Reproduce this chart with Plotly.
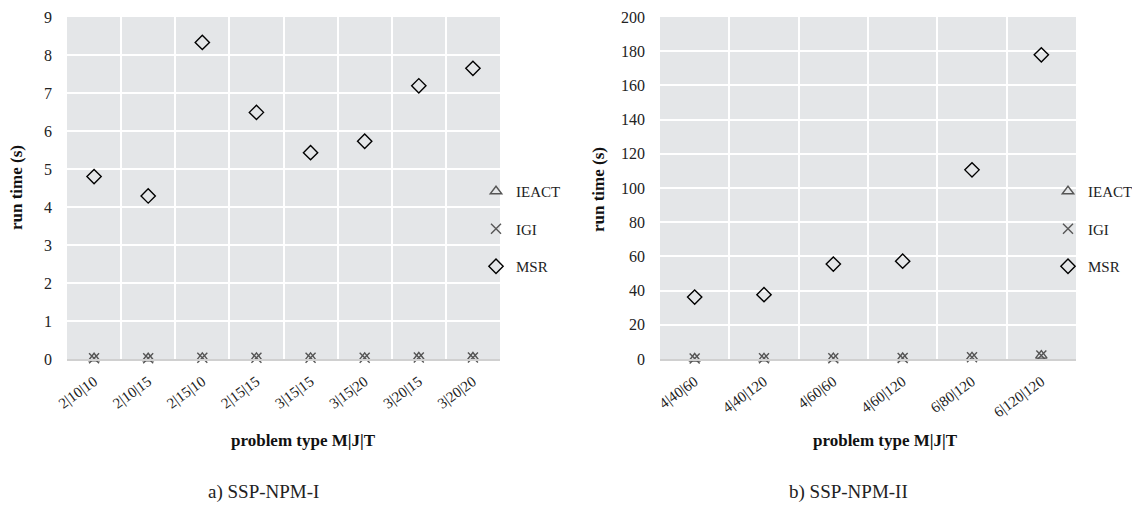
import plotly.graph_objects as go

# ---- data ----
cats_a = ["2|10|10", "2|10|15", "2|15|10", "2|15|15", "3|15|15", "3|15|20", "3|20|15", "3|20|20"]
ieact_a = [0.02, 0.02, 0.03, 0.03, 0.03, 0.03, 0.04, 0.04]
igi_a = [0.02, 0.02, 0.03, 0.03, 0.03, 0.03, 0.04, 0.04]
msr_a = [4.80, 4.29, 8.33, 6.49, 5.43, 5.73, 7.19, 7.65]

cats_b = ["4|40|60", "4|40|120", "4|60|60", "4|60|120", "6|80|120", "6|120|120"]
ieact_b = [0.3, 0.4, 0.5, 0.6, 1.0, 2.0]
igi_b = [0.3, 0.4, 0.5, 0.6, 1.0, 2.0]
msr_b = [36.2, 37.6, 55.5, 57.2, 110.6, 177.9]

OFF = 8  # default page margin of the html body
W, H = 1140 - OFF, 508 - OFF
FONT = "Liberation Serif, Times New Roman, DejaVu Serif, serif"
PLOT_BG = "#e4e6e8"

def px_x(p):
    return (p - OFF) / W

def px_y(p):
    return 1 - (p - OFF) / H

fig = go.Figure()

series = [
    ("IEACT", "triangle-up-open", "#555555", 10),
    ("IGI", "x-thin-open", "#555555", 10),
    ("MSR", "diamond-open", "#000000", 11),
]

for xa, ya, cats, vals, leg in [
    ("x", "y", cats_a, [ieact_a, igi_a, msr_a], "legend"),
    ("x2", "y2", cats_b, [ieact_b, igi_b, msr_b], "legend2"),
]:
    for (name, sym, col, sz), v in zip(series, vals):
        fig.add_trace(go.Scatter(
            x=cats, y=v, mode="markers", name=name,
            xaxis=xa, yaxis=ya, legend=leg, legendgroup=name + leg,
            cliponaxis=False,
            marker=dict(symbol=sym, size=sz, color=col,
                        line=dict(width=1.4, color=col)),
        ))

common_x = dict(
    type="category", tickson="boundaries", showgrid=True, gridcolor="white",
    gridwidth=2, showline=True, linecolor="#d0d0d0", linewidth=2,
    ticks="", tickangle=-36, zeroline=False, automargin=False,
    ticklabelstandoff=6, ticklabeloverflow="allow",
    tickfont=dict(family=FONT, size=15, color="#222222"),
)
common_y = dict(
    showgrid=True, gridcolor="white", gridwidth=2, zeroline=False,
    showline=False, ticks="", ticklabelstandoff=14, automargin=False,
    ticklabeloverflow="allow",
    tickfont=dict(family=FONT, size=16, color="#222222"),
)

ydom = [px_y(359), px_y(17)]

fig.update_layout(
    width=W, height=H,
    margin=dict(l=0, r=0, t=0, b=0, autoexpand=False),
    paper_bgcolor="white",
    plot_bgcolor=PLOT_BG,
    showlegend=True,
    xaxis=dict(domain=[px_x(67), px_x(500)], anchor="y",
               range=[-0.5, len(cats_a) - 0.5], **common_x),
    yaxis=dict(domain=ydom, anchor="x", range=[0, 9], dtick=1, **common_y),
    xaxis2=dict(domain=[px_x(660), px_x(1076)], anchor="y2",
                range=[-0.5, len(cats_b) - 0.5], **common_x),
    yaxis2=dict(domain=ydom, anchor="x2", range=[0, 200], dtick=20, **common_y),
    legend=dict(x=px_x(476), y=px_y(175), xanchor="left", yanchor="top",
                bgcolor="rgba(0,0,0,0)", tracegroupgap=15,
                font=dict(family=FONT, size=15, color="#222222"),
                itemwidth=30),
    legend2=dict(x=px_x(1048), y=px_y(175), xanchor="left", yanchor="top",
                 bgcolor="rgba(0,0,0,0)", tracegroupgap=15,
                 font=dict(family=FONT, size=15, color="#222222"),
                 itemwidth=30),
)

ann_font_b = dict(family=FONT, size=17, color="#111111")
annotations = [
    dict(text="<b>run time (s)</b>", x=px_x(16), y=px_y(188), textangle=-90,
         font=ann_font_b),
    dict(text="<b>run time (s)</b>", x=px_x(598), y=px_y(190), textangle=-90,
         font=ann_font_b),
    dict(text="<b>problem type M|J|T</b>", x=px_x(303), y=px_y(440),
         font=ann_font_b),
    dict(text="<b>problem type M|J|T</b>", x=px_x(885), y=px_y(440),
         font=ann_font_b),
    dict(text="a) SSP-NPM-I", x=px_x(263), y=px_y(492),
         font=dict(family=FONT, size=19, color="#222222")),
    dict(text="b) SSP-NPM-II", x=px_x(848), y=px_y(492),
         font=dict(family=FONT, size=19, color="#222222")),
]
for a in annotations:
    a.update(xref="paper", yref="paper", showarrow=False,
             xanchor="center", yanchor="middle")
fig.update_layout(annotations=annotations)

fig.write_html("out.html")
